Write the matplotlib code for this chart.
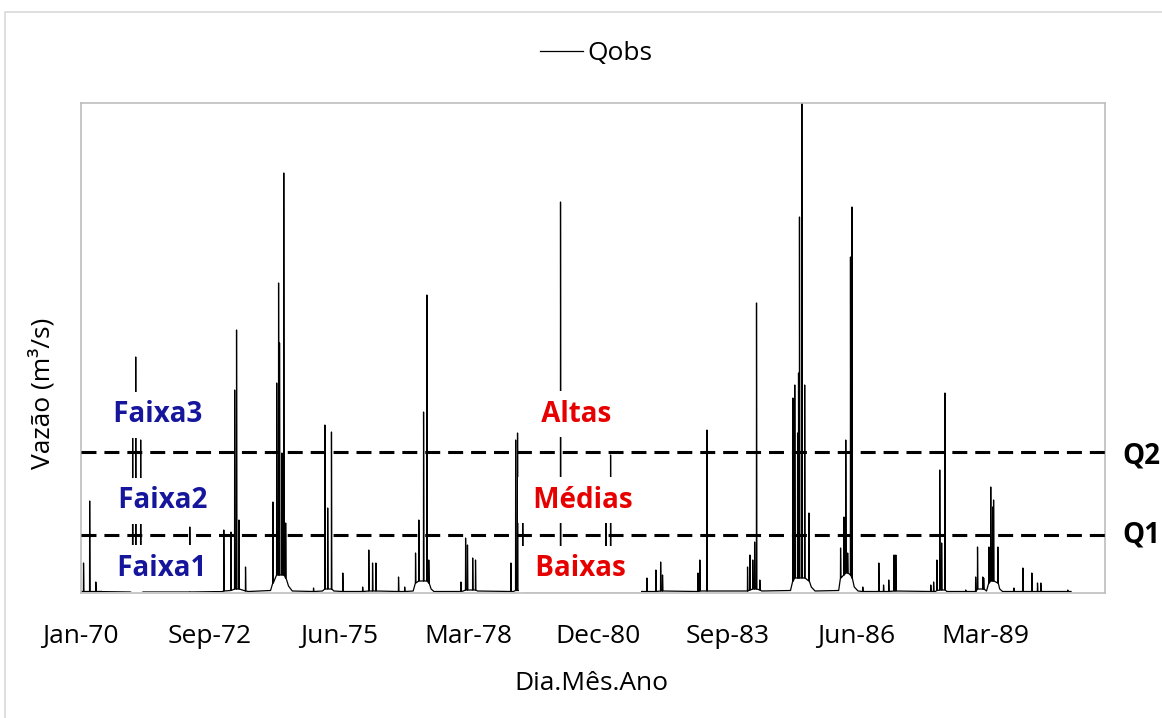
import pandas as pd
import matplotlib
matplotlib.use("Agg")
import matplotlib.pyplot as plt
from matplotlib.patches import Rectangle

# picos de vazao: ano decimal, vazao de pico, vazao de base em volta
peak_year = [1970.06, 1970.19, 1970.32, 1971.10, 1971.165, 1971.27, 1972.31,
             1973.03, 1973.18, 1973.26, 1973.30, 1973.35, 1973.49,
             1974.07, 1974.15, 1974.19, 1974.21, 1974.26, 1974.30, 1974.34,
             1974.93, 1975.17, 1975.23, 1975.31, 1975.55, 1975.97,
             1976.10, 1976.18, 1976.25, 1976.73, 1976.86,
             1977.09, 1977.16, 1977.26, 1977.33, 1977.37,
             1978.05, 1978.15, 1978.19, 1978.30, 1978.36,
             1979.11, 1979.21, 1979.25, 1979.36, 1980.16, 1981.12, 1981.22,
             1981.99, 1982.18, 1982.28, 1982.32, 1983.07, 1983.11, 1983.26,
             1984.12, 1984.17, 1984.23, 1984.27, 1984.31, 1984.38,
             1985.08, 1985.12, 1985.18, 1985.20, 1985.22, 1985.27, 1985.33, 1985.42,
             1986.09, 1986.16, 1986.20, 1986.24, 1986.30, 1986.33, 1986.56,
             1986.90, 1987.00, 1987.11, 1987.22, 1987.26,
             1988.00, 1988.06, 1988.13, 1988.19, 1988.23, 1988.30, 1988.74,
             1988.95, 1988.99, 1989.10, 1989.12, 1989.23, 1989.27, 1989.31, 1989.33, 1989.42,
             1989.76, 1989.95, 1990.14, 1990.26, 1990.33, 1990.90]
peak_flow = [60, 184, 22, 346, 472, 306, 132,
             126, 122, 406, 526, 146, 52,
             182, 420, 620, 500, 280, 840, 140,
             10, 336, 170, 322, 40, 12,
             86, 60, 60, 32, 12,
             80, 146, 362, 596, 66,
             22, 110, 96, 70, 66,
             60, 306, 320, 150, 782, 140, 276,
             30, 46, 62, 36, 40, 66, 326,
             52, 76, 66, 102, 580, 26,
             390, 416, 320, 440, 752, 980, 416, 160,
             90, 152, 306, 80, 672, 772, 12,
             60, 16, 26, 76, 76,
             16, 22, 66, 246, 100, 400, 6,
             32, 92, 32, 30, 92, 212, 172, 186, 92,
             10, 50, 40, 20, 20, 6]
peak_base = [3, 3, 3, 6, 6, 6, 4,
             4, 5, 8, 8, 8, 4,
             20, 36, 36, 36, 36, 36, 30,
             3, 8, 8, 8, 3, 3,
             4, 4, 4, 3, 3,
             20, 24, 24, 24, 20,
             3, 6, 6, 6, 6,
             3, 5, 5, 5, 3, 3, 3,
             3, 3, 4, 4, 3, 4, 4,
             4, 6, 8, 8, 8, 6,
             24, 30, 30, 30, 30, 30, 30, 24,
             30, 36, 40, 40, 36, 30, 3,
             3, 3, 3, 4, 4,
             3, 3, 5, 6, 6, 6, 3,
             3, 8, 8, 8, 20, 24, 24, 24, 20,
             3, 3, 3, 3, 3, 3]

# vazoes baixas entre os picos (inicio e fim das recessoes)
low_year = [1970.00, 1971.05, 1971.32, 1973.00, 1973.55, 1974.02, 1974.40, 1974.48,
            1975.12, 1975.36, 1977.04, 1977.42, 1977.48, 1978.10, 1978.40,
            1979.16, 1979.40, 1984.08, 1984.42, 1985.03, 1985.47, 1985.55,
            1986.05, 1986.38, 1986.46, 1988.10, 1988.34, 1989.18, 1989.46,
            1989.52, 1990.97]
low_flow = [3, 4, 4, 3, 3, 5, 14, 4,
            4, 4, 4, 8, 3, 4, 4,
            3, 3, 4, 4, 5, 12, 4,
            5, 12, 4, 3, 3, 4, 8,
            3, 3]

q1 = 116
q2 = 282
x_end = "1991-09-10"
tick_dates = pd.date_range("1970-01-01", periods=8, freq="1000D")
tick_labels = ["Jan-70", "Sep-72", "Jun-75", "Mar-78", "Dec-80", "Sep-83", "Jun-86", "Mar-89"]


def year_to_date(y):
    return pd.Timestamp("1970-01-01") + pd.to_timedelta((y - 1970) * 365.25, unit="D")


pts = [(year_to_date(y), f) for y, f in zip(low_year, low_flow)]
for yr, f, b in zip(peak_year, peak_flow, peak_base):
    d = year_to_date(yr)
    pts += [(d - pd.Timedelta(days=1), b), (d, f), (d + pd.Timedelta(days=3), b)]
serie = pd.DataFrame(pts, columns=["data", "qobs"]).sort_values("data")

plt.rcParams['font.family'] = ['Open Sans', 'DejaVu Sans']

fig = plt.figure(figsize=(11.62, 7.18), dpi=100)
ax = fig.add_axes([80.7 / 1162, 1 - 593 / 718, 1024.3 / 1162, 490 / 718])

ax.plot(serie["data"], serie["qobs"], color="black", lw=0.9, label="Qobs", zorder=2)
ax.axhline(q2, color="black", lw=2.2, dashes=(4.9, 2.6), zorder=5)
ax.axhline(q1, color="black", lw=2.2, dashes=(4.9, 2.6), zorder=5)

ax.set_xlim(pd.Timestamp("1970-01-01"), pd.Timestamp(x_end))
ax.set_ylim(0, 980)
ax.set_xticks(tick_dates)
ax.set_xticklabels(tick_labels, fontsize=19)
ax.set_yticks([])
ax.tick_params(axis="x", length=0, pad=22)
for s in ax.spines.values():
    s.set_color("#BDBDBD")
    s.set_linewidth(1.2)

blue = "#16169C"
red = "#E60000"
box = dict(boxstyle="square,pad=0.3", fc="white", ec="none")


def px(x, y):
    return (x - 80.7) / 1024.3, (593 - y) / 490


for label, xp, yp, c in [("Faixa3", 158, 415, blue), ("Faixa2", 163, 501, blue),
                         ("Faixa1", 162, 568, blue), ("Altas", 576, 414, red),
                         ("Médias", 583, 500, red), ("Baixas", 580, 569, red)]:
    ax.text(*px(xp, yp), " " + label + " ", transform=ax.transAxes, ha="center", va="center",
            fontsize=20, fontweight="bold", color=c, bbox=box, zorder=4)

ax.text(*px(1122, 456), "Q2", transform=ax.transAxes, ha="left", va="center",
        fontsize=20, fontweight="bold", color="black", clip_on=False)
ax.text(*px(1122, 535), "Q1", transform=ax.transAxes, ha="left", va="center",
        fontsize=20, fontweight="bold", color="black", clip_on=False)

fig.text(591 / 1162, 1 - 690 / 718, "Dia.Mês.Ano", ha="center", va="baseline", fontsize=19)
fig.text(42 / 1162, 1 - 393 / 718, "Vazão (m³/s)", ha="center", va="center",
         rotation=90, fontsize=19)

fig.legend(loc="center", bbox_to_anchor=(596 / 1162, 1 - 54 / 718), frameon=False,
           fontsize=19, handlelength=1.65, handletextpad=0.15)

fig.add_artist(Rectangle((4.5 / 1162, -0.1), 1.2, 1.1 - 12.5 / 718, transform=fig.transFigure,
                         fill=False, ec="#D9D9D9", lw=1.2))

fig.savefig("out.png", dpi=100)
